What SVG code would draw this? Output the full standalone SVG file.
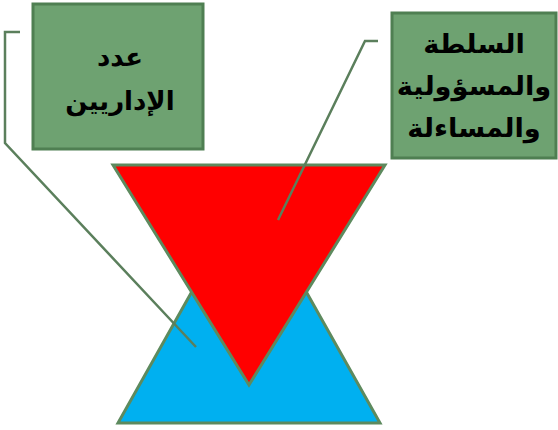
<svg xmlns="http://www.w3.org/2000/svg" width="558" height="430" viewBox="0 0 558 430">
<style>
.box{fill:#6ea271;stroke:#4f7f52;stroke-width:3}
.tri{stroke:#5d8a5e;stroke-width:3;stroke-linejoin:miter}
.conn{fill:none;stroke:#5b7f5c;stroke-width:2.5}
.t{font-family:"DejaVu Sans",sans-serif;font-weight:bold;font-size:26px;fill:#000;text-anchor:middle}
</style>
<rect width="558" height="430" fill="#fff"/>
<g id="bottom-triangle"><polygon class="tri" fill="#00b0f0" points="249,190 380,423 118,423"/></g>
<g id="top-triangle"><polygon class="tri" fill="#ff0000" points="113,165 385,165 249,385"/></g>
<g id="connectors">
<polyline class="conn" points="20,32 5,32 5,143 196,347"/>
<polyline class="conn" points="378,41 365,41 278,220"/>
</g>
<g id="box-admins">
<rect class="box" x="33" y="4" width="170" height="145"/>
<text class="t" x="120" y="66" direction="rtl">عدد</text>
<text class="t" x="120" y="110" direction="rtl">الإداريين</text>
</g>
<g id="box-authority">
<rect class="box" x="392" y="13" width="164" height="145"/>
<g transform="translate(474,0) scale(1.05,1)">
<text class="t" x="0" y="53" direction="rtl">السلطة</text>
<text class="t" x="0" y="95" direction="rtl">والمسؤولية</text>
<text class="t" x="0" y="137" direction="rtl">والمساءلة</text>
</g>
</g>
</svg>
